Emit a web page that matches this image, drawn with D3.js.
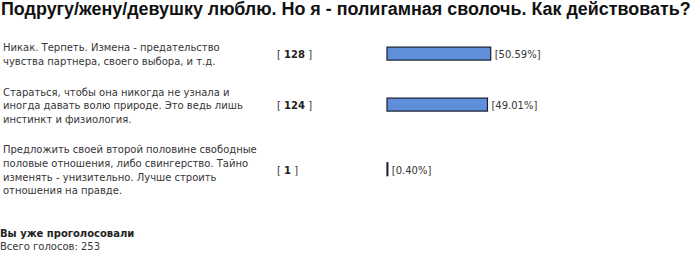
<!DOCTYPE html>
<html>
<head>
<meta charset="utf-8">
<script src="https://cdn.jsdelivr.net/npm/d3@7"></script>
<style>
  html, body { margin: 0; padding: 0; background: #fff; overflow: hidden; }
  svg { display: block; }
</style>
</head>
<body>
<svg id="poll" width="700" height="267"></svg>
<script>
// Poll question and answers
const question = "Подругу/жену/девушку люблю. Но я - полигамная сволочь. Как действовать?";
const answerLines = [
  ["Никак. Терпеть. Измена - предательство", "чувства партнера, своего выбора, и т.д."],
  ["Стараться, чтобы она никогда не узнала и", "иногда давать волю природе. Это ведь лишь", "инстинкт и физиология."],
  ["Предложить своей второй половине свободные", "половые отношения, либо свингерство. Тайно", "изменять - унизительно. Лучше строить", "отношения на правде."]
];
const votes = [128, 124, 1];
const percents = [50.59, 49.01, 0.40];
const votedNote = "Вы уже проголосовали";
const totalLabel = "Всего голосов: ";
const totalVotes = 253;

const svg = d3.select("#poll");
const bodyFont = "'DejaVu Sans Condensed', 'DejaVu Sans', sans-serif";
const lineH = 13.6;
const rowPad = 17;

// Heading, sized to run across the page
const title = svg.append("text")
  .attr("x", 1).attr("y", 15)
  .attr("font-family", "'Liberation Sans', Arial, sans-serif")
  .attr("font-weight", "bold")
  .attr("font-size", 15)
  .attr("fill", "#111")
  .text(question);
const tw = title.node().getComputedTextLength();
title.attr("font-size", 15 * 690 / tw);

// Row geometry: each row grows with its number of text lines
const rows = [];
let rowTop = 32;
answerLines.forEach((lines, i) => {
  const h = lines.length * lineH + rowPad;
  rows.push({ i, lines, top: rowTop, h, mid: rowTop + h / 2 });
  rowTop += h;
});

const x = d3.scaleLinear().domain([0, 100]).range([387, 592]);

const g = svg.append("g");

// Answer texts
const answerText = g.selectAll("text.answer").data(rows).join("text")
  .attr("class", "answer")
  .attr("font-family", bodyFont)
  .attr("font-size", 11)
  .attr("fill", "#363636");
answerText.selectAll("tspan").data(d => d.lines.map((t, k) => ({ t, k, d }))).join("tspan")
  .attr("x", 3)
  .attr("y", e => e.d.mid - (e.d.lines.length - 1) * lineH / 2 + 4 + e.k * lineH)
  .text(e => e.t);

// Fit the body font so the first answer line spans its column width
const probe = answerText.select("tspan").node();
const bodySize = 11 * 217 / probe.getComputedTextLength();
answerText.attr("font-size", bodySize);

// Vote counts
const countText = g.selectAll("text.count").data(rows).join("text")
  .attr("class", "count")
  .attr("x", 277)
  .attr("y", d => d.mid + 4)
  .attr("font-family", bodyFont)
  .attr("font-size", bodySize)
  .attr("fill", "#363636");
countText.append("tspan").text("[ ");
countText.append("tspan").attr("font-weight", "bold").attr("fill", "#222").text(d => votes[d.i]);
countText.append("tspan").text(" ]");

// Bars
g.selectAll("rect.bar").data(rows).join("rect")
  .attr("class", "bar")
  .attr("x", x(0))
  .attr("y", d => d.mid - 7)
  .attr("width", d => x(percents[d.i]) - x(0))
  .attr("height", 13)
  .attr("fill", "#5f8fd8")
  .attr("stroke", "#1a1e2e")
  .attr("stroke-width", 1.2);

// Percent labels
g.selectAll("text.pct").data(rows).join("text")
  .attr("class", "pct")
  .attr("x", d => x(percents[d.i]) + 4)
  .attr("y", d => d.mid + 4)
  .attr("font-family", bodyFont)
  .attr("font-size", bodySize)
  .attr("fill", "#363636")
  .text(d => "[" + percents[d.i].toFixed(2) + "%]");

// Footer
svg.append("text")
  .attr("x", 0).attr("y", 237)
  .attr("font-family", bodyFont)
  .attr("font-size", bodySize)
  .attr("font-weight", "bold")
  .attr("fill", "#222")
  .text(votedNote);
svg.append("text")
  .attr("x", 0).attr("y", 250)
  .attr("font-family", bodyFont)
  .attr("font-size", bodySize)
  .attr("fill", "#363636")
  .text(totalLabel + totalVotes);
</script>
</body>
</html>
